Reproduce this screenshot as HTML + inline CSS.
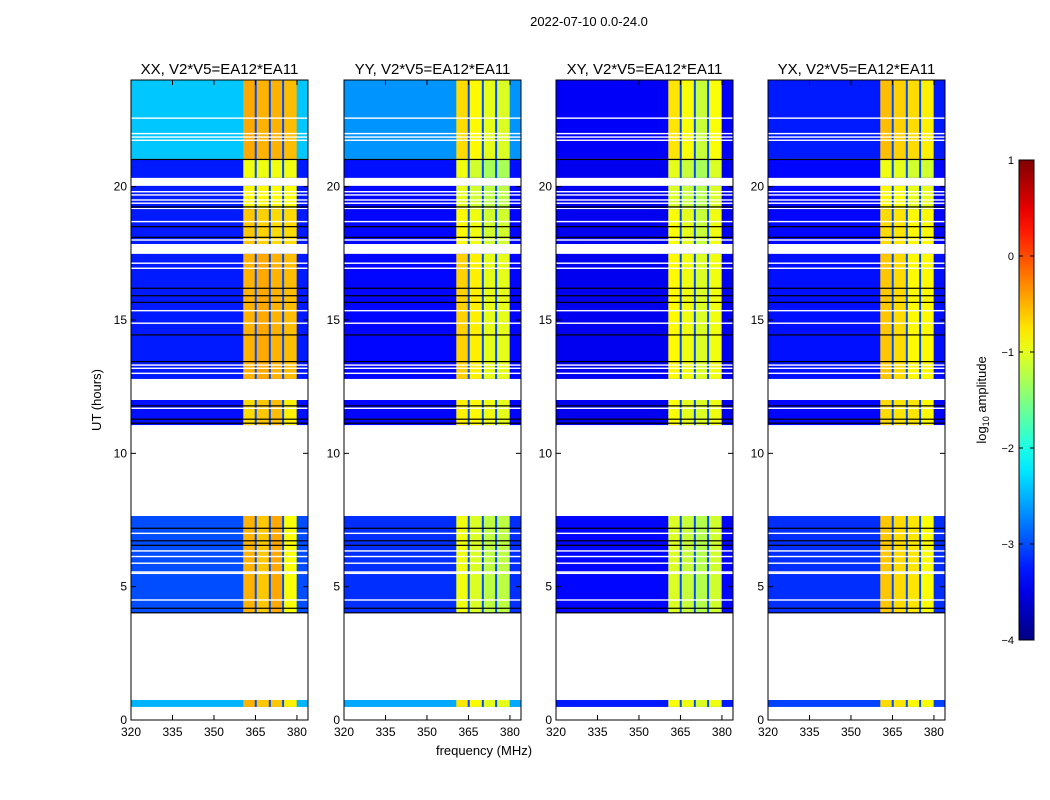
<!DOCTYPE html>
<html><head><meta charset="utf-8">
<style>
body{margin:0;background:#fff;}
svg{display:block;font-family:"Liberation Sans","DejaVu Sans",sans-serif;}
</style></head>
<body>
<svg id="chart" width="1050" height="800" viewBox="0 0 1050 800" xmlns="http://www.w3.org/2000/svg">
<text x="589" y="26" font-size="13" text-anchor="middle">2022-07-10 0.0-24.0</text>
<text transform="translate(101,400) rotate(-90)" font-size="13" text-anchor="middle">UT (hours)</text>
<text x="484" y="755" font-size="13" text-anchor="middle">frequency (MHz)</text>
<g id="panels"></g>
<g id="cbar"></g>
</svg>
<script>
const panelNames = ["XX","YY","XY","YX"];
const segStart = [21.04, 20.33, 19.2, 17.85, 12.79, 11.06, 4.01, 0.49];
const segEnd   = [24.0, 21.0, 20.03, 19.16, 17.48, 12.0, 7.65, 0.75];
const chanEdges = [360.6, 365.1, 370.2, 375.0, 379.9];
const dividerFreqs = [365.1, 370.2, 375.0];
const bgXX = [-2.4,-3.25,-3.25,-3.25,-3.25,-3.3,-3.0,-2.5];
const bgYY = [-2.65,-3.3,-3.35,-3.35,-3.35,-3.35,-3.15,-2.55];
const bgXY = [-3.4,-3.45,-3.45,-3.45,-3.45,-3.45,-3.35,-3.25];
const bgYX = [-3.25,-3.35,-3.35,-3.35,-3.3,-3.35,-3.15,-3.05];
const chXX = [[-0.45,-0.5,-0.5,-0.55],[-0.95,-0.95,-0.95,-0.95],[-0.85,-0.85,-0.85,-0.9],[-0.6,-0.65,-0.7,-0.7],[-0.5,-0.45,-0.5,-0.55],[-0.7,-0.6,-0.55,-0.8],[-0.5,-0.6,-0.45,-0.9],[-0.5,-0.6,-0.6,-0.8]];
const chYY = [[-0.7,-0.85,-1.0,-1.05],[-0.95,-1.1,-1.3,-1.3],[-1.0,-1.1,-1.2,-1.2],[-0.85,-0.95,-1.1,-1.1],[-0.65,-0.8,-1.0,-1.0],[-0.8,-0.85,-0.95,-1.0],[-0.95,-1.05,-1.2,-1.2],[-0.75,-0.85,-1.0,-1.0]];
const chXY = [[-0.75,-0.9,-1.15,-0.9],[-1.0,-1.15,-1.3,-1.05],[-1.05,-1.15,-1.25,-1.05],[-0.9,-1.0,-1.15,-0.95],[-0.85,-0.95,-1.05,-0.95],[-0.9,-1.0,-1.05,-0.95],[-1.05,-1.15,-1.25,-1.1],[-0.9,-0.95,-1.05,-0.95]];
const chYX = [[-0.55,-0.65,-0.7,-0.8],[-0.95,-1.0,-1.1,-1.1],[-0.85,-0.9,-1.0,-1.0],[-0.7,-0.75,-0.85,-0.85],[-0.6,-0.7,-0.85,-0.85],[-0.7,-0.75,-0.75,-0.85],[-0.6,-0.7,-0.75,-0.9],[-0.7,-0.75,-0.85,-0.9]];
const whiteLines = [22.57,21.99,21.86,21.74,19.81,19.69,19.5,19.38,18.69,18.0,17.13,16.94,15.35,14.88,13.31,13.19,13.0,11.69,7.0,6.34,6.13,5.88,5.55,5.5,4.5];
const blackLines = [21.02,19.24,18.5,18.1,16.19,15.91,15.66,14.44,13.44,11.78,11.28,11.13,7.19,6.72,6.55,4.19,4.02];
const yTicks = [0,5,10,15,20];
const xTicks = [320,335,350,365,380];
const cbTicks = [1,0,-1,-2,-3,-4];
const bgAll=[bgXX,bgYY,bgXY,bgYX], chAll=[chXX,chYY,chXY,chYX];

const NS="http://www.w3.org/2000/svg";
const panelLeft=[131,344,556,768], PW=177, PT=80, PB=720;
const fMin=320, fMax=384, vMin=-4, vMax=1;
function yS(h){return PB-(h/24)*(PB-PT);}
function xS(p,f){return panelLeft[p]+(f-fMin)/(fMax-fMin)*PW;}
function jet(v){
  let t=(v-vMin)/(vMax-vMin); t=Math.max(0,Math.min(1,t));
  const c=x=>Math.round(255*Math.max(0,Math.min(1,x)));
  return `rgb(${c(1.5-Math.abs(4*t-3))},${c(1.5-Math.abs(4*t-2))},${c(1.5-Math.abs(4*t-1))})`;
}
function mk(tag,attrs,parent){const e=document.createElementNS(NS,tag);for(const k in attrs)e.setAttribute(k,attrs[k]);parent.appendChild(e);return e;}
const panels=document.getElementById("panels");
for(let p=0;p<4;p++){
  const g=mk("g",{},panels);
  
  
  const t=mk("text",{x:panelLeft[p]+PW/2,y:74,"font-size":"15","text-anchor":"middle"},g);
  t.textContent=panelNames[p]+", V2*V5=EA12*EA11";
  
  
  for(let s=0;s<segStart.length;s++){
    const y0=yS(segEnd[s]), y1=yS(segStart[s]);
    const r=mk("rect",{x:xS(p,fMin),y:y0,width:PW,height:y1-y0,fill:jet(bgAll[p][s])},g);
    
    
    for(let c=0;c<4;c++){
      const x0=xS(p,chanEdges[c]), x1=xS(p,chanEdges[c+1]);
      const cr=mk("rect",{x:x0,y:y0,width:x1-x0,height:y1-y0,fill:jet(chAll[p][s][c])},g);
      
      
    }
    for(const d of dividerFreqs){
      const dr=mk("rect",{x:xS(p,d)-1,y:y0,width:2,height:y1-y0,fill:jet(-3.0)},g);
      
      
    }
  }
  for(const h of whiteLines){
    const w=mk("rect",{x:panelLeft[p],y:yS(h)-0.7,width:PW,height:1.4,fill:"#fff"},g);
    
    
  }
  for(const h of blackLines){
    const b=mk("rect",{x:panelLeft[p],y:yS(h)-0.6,width:PW,height:1.2,fill:"#000"},g);
    
    
  }
  const fr=mk("rect",{x:panelLeft[p],y:PT,width:PW,height:PB-PT,fill:"none",stroke:"#000","stroke-width":1},g);
  
  
  for(const v of yTicks){
    const y=yS(v);
    mk("line",{x1:panelLeft[p],x2:panelLeft[p]+5,y1:y,y2:y,stroke:"#000"},g);
    mk("line",{x1:panelLeft[p]+PW,x2:panelLeft[p]+PW-5,y1:y,y2:y,stroke:"#000"},g);
    const tl=mk("text",{x:panelLeft[p]-4,y:y+4,"font-size":"12","text-anchor":"end"},g);
    tl.textContent=v;
    
    
  }
  for(const f of xTicks){
    const x=xS(p,f);
    mk("line",{x1:x,x2:x,y1:PB,y2:PB-5,stroke:"#000"},g);
    mk("line",{x1:x,x2:x,y1:PT,y2:PT+5,stroke:"#000"},g);
    const tl=mk("text",{x:x,y:PB+16,"font-size":"12","text-anchor":"middle"},g);
    tl.textContent=f;
    
    
  }
}
const cb=document.getElementById("cbar");


const cbX=1019, cbW=15, cbT=160, cbB=640;
const defs=mk("defs",{},cb);
const lg=mk("linearGradient",{id:"jetg",x1:0,y1:1,x2:0,y2:0},defs);
for(let i=0;i<=20;i++){mk("stop",{offset:i/20,"stop-color":jet(vMin+(vMax-vMin)*i/20)},lg);}
mk("rect",{x:cbX,y:cbT,width:cbW,height:cbB-cbT,fill:"url(#jetg)",stroke:"#000","stroke-width":1},cb);
for(const v of cbTicks){
  const y=cbB-(v-vMin)/(vMax-vMin)*(cbB-cbT);
  mk("line",{x1:cbX,x2:cbX+4,y1:y,y2:y,stroke:"#000"},cb);
  mk("line",{x1:cbX+cbW,x2:cbX+cbW-4,y1:y,y2:y,stroke:"#000"},cb);
  const tl=mk("text",{x:cbX-5,y:y+4,"font-size":"11","text-anchor":"end"},cb);
  tl.textContent=v<0?"\u2212"+(-v):v;
  
  
}
const cl=mk("text",{transform:"translate(986,400) rotate(-90)","font-size":"13","text-anchor":"middle"},cb);
cl.innerHTML='log<tspan font-size="9" dy="3">10</tspan><tspan dy="-3"> amplitude</tspan>';


</script>
</body></html>
